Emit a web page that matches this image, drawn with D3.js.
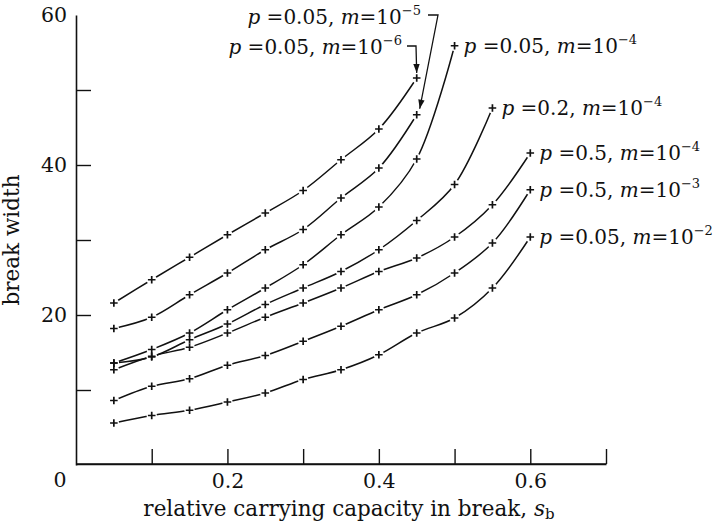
<!DOCTYPE html>
<html>
<head>
<meta charset="utf-8">
<script src="https://cdn.jsdelivr.net/npm/d3@7"></script>
<style>
  html, body { margin: 0; padding: 0; background: #fff; }
  svg { display: block; }
  text { font-family: "DejaVu Serif", "Liberation Serif", serif; fill: #111; }
</style>
</head>
<body>
<svg id="chart" width="714" height="527"></svg>
<script>
// carrying capacity in the break (x) and the break width for each parameter set
const sbValues = [0.05, 0.1, 0.15, 0.2, 0.25, 0.3, 0.35, 0.4, 0.45, 0.5, 0.55, 0.6];

const widthP005M6 = [21.6, 24.7, 27.7, 30.7, 33.6, 36.6, 40.7, 44.8, 51.6];
const widthP005M5 = [18.2, 19.7, 22.7, 25.6, 28.7, 31.4, 35.6, 39.6, 46.7];
const widthP005M4 = [13.6, 15.4, 17.6, 20.7, 23.6, 26.7, 30.7, 34.4, 40.8, 55.9];
const widthP02M4  = [13.6, 14.4, 16.7, 18.8, 21.4, 23.6, 25.8, 28.7, 32.6, 37.4, 47.6];
const widthP05M4  = [12.7, 14.5, 15.7, 17.6, 19.7, 21.6, 23.6, 25.8, 27.6, 30.4, 34.7, 41.6];
const widthP05M3  = [8.6, 10.5, 11.5, 13.3, 14.6, 16.5, 18.5, 20.7, 22.7, 25.6, 29.6, 36.7];
const widthP005M2 = [5.6, 6.6, 7.3, 8.4, 9.6, 11.4, 12.7, 14.7, 17.6, 19.6, 23.6, 30.4];

// curve labels: p value and exponent of m
const labelP   = ["0.05", "0.05", "0.05", "0.2", "0.5", "0.5", "0.05"];
const labelExp = ["−6", "−5", "−4", "−4", "−4", "−3", "−2"];

const xTicks = [0.1, 0.2, 0.3, 0.4, 0.5, 0.6, 0.7];
const xTickLabels = ["0.2", "0.4", "0.6"];
const yTicks = [10, 20, 30, 40, 50];
const yTickLabels = ["20", "40", "60"];

const allSeries = [widthP005M6, widthP005M5, widthP005M4, widthP02M4, widthP05M4, widthP05M3, widthP005M2];

const svg = d3.select("#chart");
const x = d3.scaleLinear().domain([0, 0.7]).range([76, 606]);
const y = d3.scaleLinear().domain([0, 60]).range([465, 15]);
const ink = "#111";

// axes
const gx = svg.append("g").attr("transform", `translate(0,${y(0) - 1})`)
  .call(d3.axisBottom(x).tickValues(xTicks).tickSize(-15).tickSizeOuter(0)
    .tickFormat(d => xTickLabels.includes(d3.format(".1f")(d)) ? d3.format(".1f")(d) : "")
    .tickPadding(9));
const gy = svg.append("g").attr("transform", `translate(${x(0)},0)`)
  .call(d3.axisLeft(y).tickValues(yTicks.concat([60])).tickSize(-15).tickSizeOuter(0)
    .tickFormat(d => yTickLabels.includes(String(d)) ? String(d) : "")
    .tickPadding(9));
[gx, gy].forEach(g => {
  g.select(".domain").attr("stroke", ink).attr("stroke-width", 1.6);
  g.selectAll(".tick line").attr("stroke", ink).attr("stroke-width", 1.4);
  g.selectAll(".tick text").attr("font-size", 20.5).attr("font-family", "DejaVu Serif").attr("fill", ink);
});
gy.selectAll(".tick").filter(d => d === 60).select("line").remove();
// extend x axis to the y axis
svg.append("line").attr("x1", x(0)).attr("x2", x(0.7)).attr("y1", y(0) - 1).attr("y2", y(0) - 1)
  .attr("stroke", ink).attr("stroke-width", 1.6);
// origin label
svg.append("text").attr("x", x(0) - 16).attr("y", y(0) + 22).attr("text-anchor", "middle")
  .attr("font-size", 20.5).text("0");

// axis titles
const xt = svg.append("text").attr("x", 349).attr("y", 516).attr("text-anchor", "middle").attr("font-size", 21.5);
xt.append("tspan").text("relative carrying capacity in break, ");
xt.append("tspan").attr("font-style", "italic").text("s");
xt.append("tspan").attr("font-size", 15).attr("dy", 3).text("b");

svg.append("text").attr("transform", "translate(19,240) rotate(-90)")
  .attr("text-anchor", "middle").attr("font-size", 21.5).text("break width");

// curves
const line = d3.line().x(d => x(d[0])).y(d => y(d[1])).curve(d3.curveCatmullRom.alpha(0.5));
const pts = allSeries.map(s => s.map((v, i) => [sbValues[i], v]));

svg.append("g").selectAll("path").data(pts).join("path")
  .attr("d", line).attr("fill", "none").attr("stroke", ink).attr("stroke-width", 1.5);

// white gaps around markers, then the plus markers
const flat = pts.flat();
svg.append("g").selectAll("circle").data(flat).join("circle")
  .attr("cx", d => x(d[0])).attr("cy", d => y(d[1])).attr("r", 5.2).attr("fill", "#fff");
svg.append("g").selectAll("path").data(flat).join("path")
  .attr("d", d => {
    const cx = x(d[0]), cy = y(d[1]), a = 3.8;
    return `M${cx - a},${cy}H${cx + a}M${cx},${cy - a}V${cy + a}`;
  })
  .attr("stroke", ink).attr("stroke-width", 1.7);

// label builder
function addLabel(g, p, e, xPos, yPos, anchor) {
  const t = g.append("text").attr("x", xPos).attr("y", yPos).attr("font-size", 20)
    .attr("text-anchor", anchor || "start");
  t.append("tspan").attr("font-style", "italic").text("p");
  t.append("tspan").text(" =" + p + ", ");
  t.append("tspan").attr("font-style", "italic").text("m");
  t.append("tspan").text("=10");
  t.append("tspan").attr("font-size", 13).attr("dy", -9).text(e);
  return t;
}

const lab = svg.append("g");
// labels placed right of each curve's end point
[2, 3, 4, 5, 6].forEach(k => {
  const s = pts[k], last = s[s.length - 1];
  addLabel(lab, labelP[k], labelExp[k], x(last[0]) + 9, y(last[1]) + 7);
});

// labels with arrows for the two upper curves
const endA = pts[0][pts[0].length - 1];
const endB = pts[1][pts[1].length - 1];
addLabel(lab, labelP[1], labelExp[1], 421, 24, "end");
addLabel(lab, labelP[0], labelExp[0], 402, 54, "end");

function arrowHead(tipX, tipY, fromX, fromY) {
  const ang = Math.atan2(tipY - fromY, tipX - fromX);
  const L = 9, W = 3.2;
  const bx = tipX - L * Math.cos(ang), by = tipY - L * Math.sin(ang);
  const nx = -Math.sin(ang) * W, ny = Math.cos(ang) * W;
  return `M${tipX},${tipY}L${bx + nx},${by + ny}L${bx - nx},${by - ny}Z`;
}

// arrow to the m=1e-5 curve end
{
  const tx = x(endB[0]) + 3, ty = y(endB[1]) - 6;
  const cx = 438, cy = 15;
  svg.append("path").attr("d", `M428,${cy}H${cx}L${tx},${ty}`)
    .attr("fill", "none").attr("stroke", ink).attr("stroke-width", 1.3);
  svg.append("path").attr("d", arrowHead(tx, ty, cx, cy)).attr("fill", ink);
}
// arrow to the m=1e-6 curve end
{
  const tx = x(endA[0]), ty = y(endA[1]) - 5;
  const cx = 416, cy = 46;
  svg.append("path").attr("d", `M407,${cy}H${cx}L${tx},${ty}`)
    .attr("fill", "none").attr("stroke", ink).attr("stroke-width", 1.3);
  svg.append("path").attr("d", arrowHead(tx, ty, cx, cy)).attr("fill", ink);
}
</script>
</body>
</html>
